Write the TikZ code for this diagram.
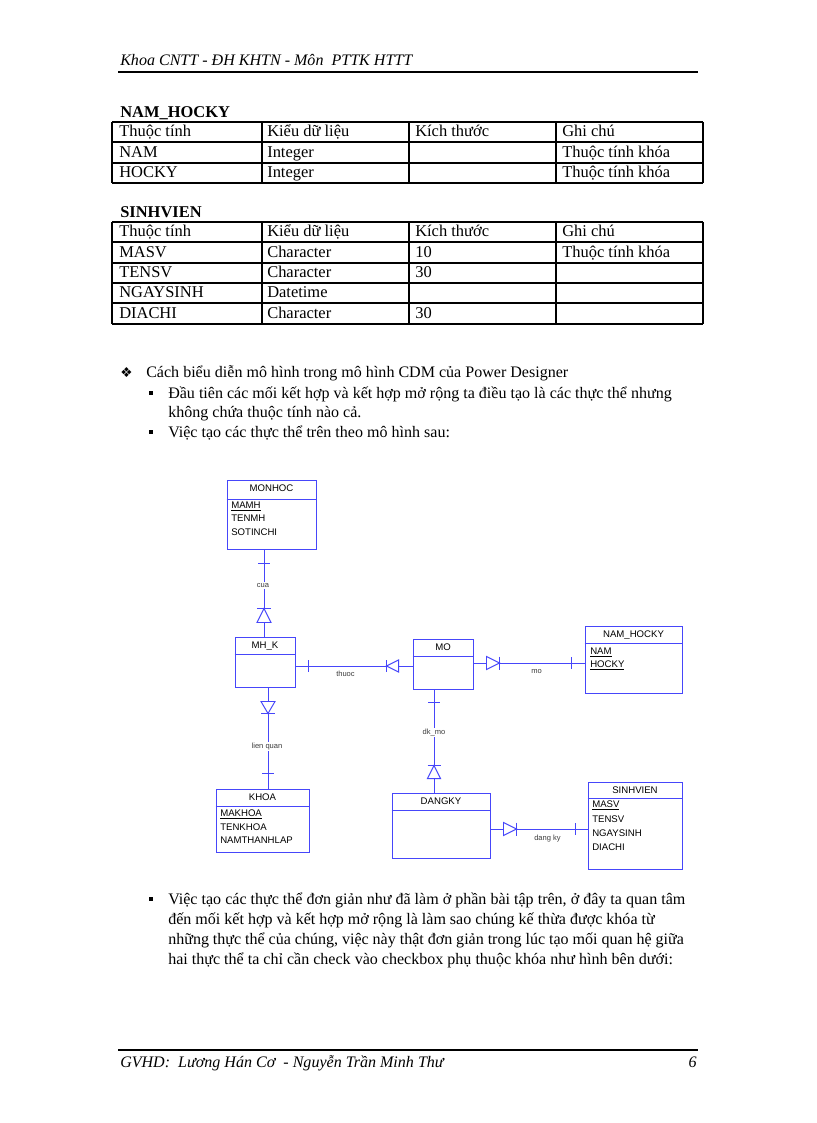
\documentclass[tikz,border=0pt]{standalone}
\usepackage{fontspec}
\setmainfont{Liberation Serif}
\newfontfamily\arialf{Liberation Sans}
\newfontfamily\dejavu{DejaVu Sans}
\usetikzlibrary{fit,calc}
\definecolor{erblue}{RGB}{70,70,250}
\definecolor{lblgray}{RGB}{60,60,60}
\newcommand\entbox[7]{%
  \node[ent,fit={(#2,#3)(#4,#5)}] (#1) {};
  \draw[erblue,line width=0.7pt] (#1.west |- 0,#6) -- (#1.east |- 0,#6);
  \node[enttitle] (#1-t) at ($(#1.north)+(0,11.5)$) {#7};
}
\newcommand\cellt[4]{\node[body] (#1) at (#2,#3) {#4};}
\newcommand\parl[4]{\node[para] (#1) at (#2,#3) {#4};}
\begin{document}
\begin{tikzpicture}[x=0.7292pt,y=-0.7292pt,
  ent/.style={draw=erblue,line width=0.7pt,inner sep=0pt},
  enttitle/.style={font=\arialf\fontsize{7}{8}\selectfont,anchor=base,inner sep=0pt},
  attr/.style={font=\arialf\fontsize{7}{8}\selectfont,anchor=base west,inner sep=0pt},
  rel/.style={draw=erblue,line width=0.7pt},
  tri/.style={draw=erblue,line width=0.7pt,fill=white},
  rlabel/.style={font=\arialf\fontsize{5.5}{6}\selectfont,text=lblgray,anchor=center,inner sep=0.8pt,fill=white},
  body/.style={font=\fontsize{12}{14}\selectfont,anchor=base west,inner sep=0pt},
  para/.style={font=\fontsize{11.7}{14}\selectfont,anchor=base west,inner sep=0pt},
  tline/.style={line width=0.75pt},
  sqbullet/.style={fill=black,minimum size=3.6pt,inner sep=0pt}]
\useasboundingbox[fill=white] (0,0) rectangle (816,1123);

% header / footer
\node[para,font=\fontsize{11.7}{14}\selectfont\itshape] (hdr) at (120,66) {Khoa CNTT - ĐH KHTN - Môn\ \ PTTK HTTT};
\draw[line width=1.3pt] (118,72) -- (698,72);
\draw[line width=1.3pt] (118,1050) -- (698,1050);
\node[para,font=\fontsize{11.7}{14}\selectfont\itshape] (ftr) at (120,1067) {GVHD:\ \ Lương Hán Cơ\ \ - Nguyễn Trần Minh Thư};
\node[para,anchor=base east,font=\fontsize{11.7}{14}\selectfont\itshape] (pg) at (697,1067) {6};

% table NAM_HOCKY
\node[body,font=\fontsize{12}{14}\selectfont\bfseries] (t1title) at (120,118) {NAM\_HOCKY};
\foreach \yy in {122,142,163,183} \draw[tline] (112,\yy) -- (703,\yy);
\foreach \xx in {112,262,409,556,703} \draw[tline] (\xx,122) -- (\xx,183);
\cellt{t1a1}{119}{137}{Thuộc tính}
\cellt{t1a2}{267}{137}{Kiểu dữ liệu}
\cellt{t1a3}{415}{137}{Kích thước}
\cellt{t1a4}{562}{137}{Ghi chú}
\cellt{t1b1}{119}{157.5}{NAM}
\cellt{t1b2}{267}{157.5}{Integer}
\cellt{t1b4}{562}{157.5}{Thuộc tính khóa}
\cellt{t1c1}{119}{178}{HOCKY}
\cellt{t1c2}{267}{178}{Integer}
\cellt{t1c4}{562}{178}{Thuộc tính khóa}

% table SINHVIEN
\node[body,font=\fontsize{12}{14}\selectfont\bfseries] (t2title) at (120,218) {SINHVIEN};
\foreach \yy in {222,242,263,283,303,324} \draw[tline] (112,\yy) -- (703,\yy);
\foreach \xx in {112,262,409,556,703} \draw[tline] (\xx,222) -- (\xx,324);
\cellt{t2a1}{119}{237}{Thuộc tính}
\cellt{t2a2}{267}{237}{Kiểu dữ liệu}
\cellt{t2a3}{415}{237}{Kích thước}
\cellt{t2a4}{562}{237}{Ghi chú}
\cellt{t2b1}{119}{257.5}{MASV}
\cellt{t2b2}{267}{257.5}{Character}
\cellt{t2b3}{415}{257.5}{10}
\cellt{t2b4}{562}{257.5}{Thuộc tính khóa}
\cellt{t2c1}{119}{278}{TENSV}
\cellt{t2c2}{267}{278}{Character}
\cellt{t2c3}{415}{278}{30}
\cellt{t2d1}{119}{298}{NGAYSINH}
\cellt{t2d2}{267}{298}{Datetime}
\cellt{t2e1}{119}{318.5}{DIACHI}
\cellt{t2e2}{267}{318.5}{Character}
\cellt{t2e3}{415}{318.5}{30}

% bullets
\node[body,font=\dejavu\fontsize{10}{11}\selectfont] (bl0) at (120,377.5) {❖};
\parl{p0}{146}{378}{Cách biểu diễn mô hình trong mô hình CDM của Power Designer}
\node[sqbullet] (bl1) at (151,393) {};
\parl{p1a}{168}{398}{Đầu tiên các mối kết hợp và kết hợp mở rộng ta điều tạo là các thực thể nhưng}
\parl{p1b}{168}{417}{không chứa thuộc tính nào cả.}
\node[sqbullet] (bl2) at (151,432) {};
\parl{p2}{168}{437}{Việc tạo các thực thể trên theo mô hình sau:}
\node[sqbullet] (bl3) at (151,899) {};
\parl{p3a}{168}{904}{\makebox[377pt][s]{Việc tạo các thực thể đơn giản như đã làm ở phần bài tập trên, ở đây ta quan tâm}}
\parl{p3b}{168}{924}{đến mối kết hợp và kết hợp mở rộng là làm sao chúng kế thừa được khóa từ}
\parl{p3c}{168}{944}{\makebox[376pt][s]{những thực thể của chúng, việc này thật đơn giản trong lúc tạo mối quan hệ giữa}}
\parl{p3d}{168}{964}{hai thực thể ta chỉ cần check vào checkbox phụ thuộc khóa như hình bên dưới:}

% ===== diagram entities =====
\entbox{monhoc}{227}{480}{316}{549}{499}{MONHOC}
\node[attr] (monhoc-1) at (231,508) {\underline{MAMH}};
\node[attr] (monhoc-2) at (231,521.7) {TENMH};
\node[attr] (monhoc-3) at (231,535.3) {SOTINCHI};

\entbox{mhk}{235}{637}{295}{687}{654}{MH\_K}
\entbox{mo}{413}{639}{473}{689}{656}{MO}

\entbox{namhocky}{585}{626}{682}{693}{643}{NAM\_HOCKY}
\node[attr] (namhocky-1) at (590,654) {\underline{NAM}};
\node[attr] (namhocky-2) at (590,667.7) {\underline{HOCKY}};

\entbox{dangky}{392}{793}{490}{858}{810}{DANGKY}

\entbox{khoa}{216}{789}{309}{852}{806}{KHOA}
\node[attr] (khoa-1) at (220,816) {\underline{MAKHOA}};
\node[attr] (khoa-2) at (220,830) {TENKHOA};
\node[attr] (khoa-3) at (220,843.5) {NAMTHANHLAP};

\entbox{sinhvien}{588}{782}{682}{869}{798}{SINHVIEN}
\node[attr] (sinhvien-1) at (592,807.7) {\underline{MASV}};
\node[attr] (sinhvien-2) at (592,822.3) {TENSV};
\node[attr] (sinhvien-3) at (592,836) {NGAYSINH};
\node[attr] (sinhvien-4) at (592,850) {DIACHI};

% ===== connectors =====
% cua : MONHOC - MH_K
\coordinate (a1) at ([shift={(-1,0)}]mhk.north |- monhoc.south);
\coordinate (a2) at ([shift={(-1,0)}]mhk.north);
\draw[rel] (a1) -- (a2);
\draw[rel] ([shift={(-6,14)}]a1) -- ([shift={(6,14)}]a1);
\node[rlabel] (l-cua) at ([shift={(-1,36)}]a1) {cua};
\draw[tri] ([shift={(0,59)}]a1) -- ([shift={(-7,73)}]a1) -- ([shift={(7,73)}]a1) -- cycle;
\draw[rel] ([shift={(-7,59)}]a1) -- ([shift={(7,59)}]a1);

% thuoc : MH_K - MO
\coordinate (b1) at ([shift={(0,2)}]mhk.east |- mo.west);
\coordinate (b2) at ([shift={(0,2)}]mo.west);
\draw[rel] (b1) -- (b2);
\draw[rel] ([shift={(13,-6)}]b1) -- ([shift={(13,6)}]b1);
\node[rlabel] (l-thuoc) at ([shift={(50,8)}]b1) {thuoc};
\draw[tri] ([shift={(-26,0)}]b2) -- ([shift={(-14,-6)}]b2) -- ([shift={(-14,6)}]b2) -- cycle;
\draw[rel] ([shift={(-26,-6)}]b2) -- ([shift={(-26,6)}]b2);

% mo : MO - NAM_HOCKY
\coordinate (c1) at ([shift={(0,-1)}]mo.east);
\coordinate (c2) at (c1 -| namhocky.west);
\draw[rel] (c1) -- (c2);
\draw[tri] ([shift={(26,0)}]c1) -- ([shift={(13,-6.5)}]c1) -- ([shift={(13,6.5)}]c1) -- cycle;
\draw[rel] ([shift={(26,-6.5)}]c1) -- ([shift={(26,6.5)}]c1);
\draw[rel] ([shift={(-13,-6)}]c2) -- ([shift={(-13,6)}]c2);
\node[rlabel] (l-mo) at ([shift={(63,9)}]c1) {mo};

% dk_mo : MO - DANGKY
\coordinate (d1) at ([shift={(-9,0)}]mo.south);
\coordinate (d2) at (d1 |- dangky.north);
\draw[rel] (d1) -- (d2);
\draw[rel] ([shift={(-6,13)}]d1) -- ([shift={(6,13)}]d1);
\node[rlabel] (l-dkmo) at ([shift={(0,43)}]d1) {dk\_mo};
\draw[tri] ([shift={(0,-27)}]d2) -- ([shift={(-6.5,-14)}]d2) -- ([shift={(6.5,-14)}]d2) -- cycle;
\draw[rel] ([shift={(-6.5,-27)}]d2) -- ([shift={(6.5,-27)}]d2);

% lien quan : MH_K - KHOA
\coordinate (e1) at ([shift={(3,0)}]mhk.south);
\coordinate (e2) at (e1 |- khoa.north);
\draw[rel] (e1) -- (e2);
\draw[tri] ([shift={(0,26)}]e1) -- ([shift={(-7,14)}]e1) -- ([shift={(7,14)}]e1) -- cycle;
\draw[rel] ([shift={(-7,26)}]e1) -- ([shift={(7,26)}]e1);
\node[rlabel] (l-lienquan) at ([shift={(-1,59)}]e1) {lien quan};
\draw[rel] ([shift={(-6,-15)}]e2) -- ([shift={(6,-15)}]e2);

% dang ky : DANGKY - SINHVIEN
\coordinate (f1) at ([shift={(0,3.5)}]dangky.east);
\coordinate (f2) at (f1 -| sinhvien.west);
\draw[rel] (f1) -- (f2);
\draw[tri] ([shift={(26,0)}]f1) -- ([shift={(13,-6.5)}]f1) -- ([shift={(13,6.5)}]f1) -- cycle;
\draw[rel] ([shift={(26,-6.5)}]f1) -- ([shift={(26,6.5)}]f1);
\draw[rel] ([shift={(-12,-6)}]f2) -- ([shift={(-12,6)}]f2);
\node[rlabel] (l-dangky) at ([shift={(57,10)}]f1) {dang ky};
\end{tikzpicture}
\end{document}
